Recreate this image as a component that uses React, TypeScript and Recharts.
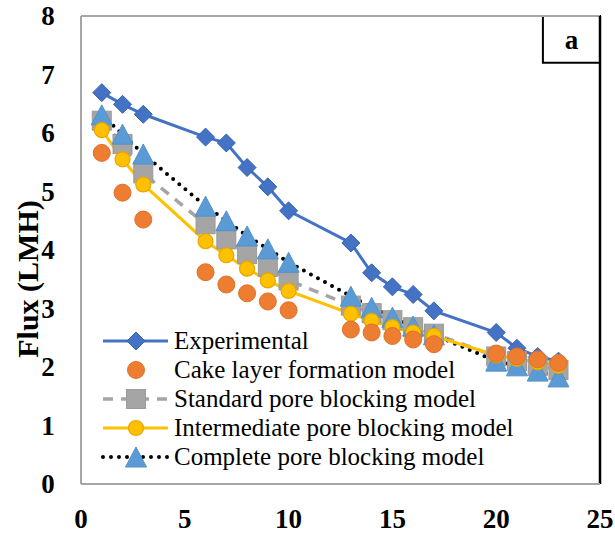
import { LineChart, Line, XAxis, YAxis, ReferenceLine, ReferenceArea } from 'recharts'

// Flux decline over time: measured values vs. four fouling models
const times = [1, 2, 3, 6, 7, 8, 9, 10, 13, 14, 15, 16, 17, 20, 21, 22, 23]
const experimental = [6.69, 6.49, 6.32, 5.93, 5.83, 5.41, 5.08, 4.67, 4.12, 3.61, 3.37, 3.24, 2.96, 2.59, 2.32, 2.18, 2.1]
const cakeLayer = [5.66, 4.98, 4.52, 3.62, 3.41, 3.26, 3.12, 2.97, 2.64, 2.59, 2.53, 2.47, 2.39, 2.23, 2.18, 2.13, 2.07]
const standardBlocking = [6.21, 5.81, 5.31, 4.44, 4.18, 3.93, 3.71, 3.48, 3.05, 2.92, 2.8, 2.68, 2.57, 2.18, 2.1, 2.02, 1.95]
const intermediateBlocking = [6.05, 5.55, 5.12, 4.15, 3.91, 3.68, 3.48, 3.3, 2.91, 2.79, 2.68, 2.59, 2.53, 2.2, 2.14, 2.08, 2.02]
const completeBlocking = [6.31, 5.98, 5.64, 4.75, 4.5, 4.24, 4.02, 3.79, 3.21, 3.02, 2.85, 2.7, 2.55, 2.1, 2.02, 1.93, 1.83]

const xTicks = [0, 5, 10, 15, 20, 25]
const yTicks = [0, 1, 2, 3, 4, 5, 6, 7, 8]

const rows = times.map((t, i) => ({
  t,
  experimental: experimental[i],
  cake: cakeLayer[i],
  standard: standardBlocking[i],
  intermediate: intermediateBlocking[i],
  complete: completeBlocking[i],
}))

const SERIF = "'Liberation Serif', 'Times New Roman', serif"
const BLUE = '#4472C4'
const ORANGE = '#ED7D31'
const GRAY = '#A5A5A5'
const YELLOW = '#FFC000'
const SKY = '#5B9BD5'
const FRAME = '#A6A6A6'

type DotProps = { cx?: number; cy?: number; index?: number }

const diamond = (cx: number, cy: number) => (
  <polygon
    points={`${cx},${cy - 9} ${cx + 9},${cy} ${cx},${cy + 9} ${cx - 9},${cy}`}
    fill={BLUE}
    stroke="#3A63AE"
    strokeWidth={1}
  />
)
const square = (cx: number, cy: number) => (
  <rect x={cx - 9.5} y={cy - 9.5} width={19} height={19} fill={GRAY} stroke="#9A9A9A" strokeWidth={1} />
)
const triangle = (cx: number, cy: number) => (
  <polygon points={`${cx},${cy - 10} ${cx + 10.5},${cy + 10} ${cx - 10.5},${cy + 10}`} fill={SKY} stroke="#5590C8" strokeWidth={1} />
)
const orangeDot = (cx: number, cy: number) => <circle cx={cx} cy={cy} r={8.5} fill={ORANGE} stroke="#E0702A" strokeWidth={1} />
const yellowDot = (cx: number, cy: number) => <circle cx={cx} cy={cy} r={7.5} fill={YELLOW} stroke="#E3A600" strokeWidth={1.2} />

const marker = (draw: (cx: number, cy: number) => JSX.Element, name: string) => (p: DotProps) => (
  <g key={`${name}-${p.index}`}>{p.cx != null && p.cy != null ? draw(p.cx, p.cy) : null}</g>
)

const XTick = ({ x, y, payload }: any) => (
  <text x={x} y={y + 33} textAnchor="middle" dominantBaseline="central" fontFamily={SERIF} fontWeight="bold" fontSize={27} fill="#000">
    {payload.value}
  </text>
)
const YTick = ({ x, y, payload }: any) => (
  <text x={x - 31} y={y} textAnchor="middle" dominantBaseline="central" fontFamily={SERIF} fontWeight="bold" fontSize={27} fill="#000">
    {payload.value}
  </text>
)

const legendItems = [
  { label: 'Experimental', line: { color: BLUE, dash: undefined as string | undefined, width: 3 }, draw: diamond },
  { label: 'Cake layer formation model', line: null, draw: orangeDot },
  { label: 'Standard pore blocking model', line: { color: GRAY, dash: '10 8', width: 3.5 }, draw: square },
  { label: 'Intermediate pore blocking model', line: { color: YELLOW, dash: undefined, width: 3 }, draw: yellowDot },
  { label: 'Complete pore blocking model', line: { color: '#000', dash: '0 8', width: 4 }, draw: triangle },
]

function LegendBox() {
  return (
    <div style={{ position: 'absolute', left: 100, top: 327, fontFamily: SERIF, fontSize: 25, color: '#000' }}>
      {legendItems.map((it) => (
        <div key={it.label} style={{ display: 'flex', alignItems: 'center', height: 28.8 }}>
          <svg width={72} height={26} style={{ overflow: 'visible' }}>
            {it.line && (
              <line
                x1={3}
                x2={68}
                y1={13}
                y2={13}
                stroke={it.line.color}
                strokeWidth={it.line.width}
                strokeDasharray={it.line.dash}
                strokeLinecap={it.line.dash === '0 8' ? 'round' : 'butt'}
              />
            )}
            {it.draw(36, 13)}
          </svg>
          <span style={{ marginLeft: 2, whiteSpace: 'nowrap', lineHeight: '28px' }}>{it.label}</span>
        </div>
      ))}
    </div>
  )
}

export default function App() {
  return (
    <div style={{ position: 'absolute', left: 0, top: 0, width: 615, height: 537, background: '#fff' }}>
      <LineChart width={615} height={537} data={rows} margin={{ top: 16, right: 15, bottom: 0, left: 0 }}>
        <XAxis
          dataKey="t"
          type="number"
          domain={[0, 25]}
          ticks={xTicks}
          height={53}
          tickLine={false}
          tickSize={0}
          axisLine={{ stroke: FRAME, strokeWidth: 2 }}
          tick={<XTick />}
        />
        <YAxis
          type="number"
          domain={[0, 8]}
          ticks={yTicks}
          width={81}
          tickLine={false}
          tickSize={0}
          axisLine={{ stroke: FRAME, strokeWidth: 2 }}
          tick={<YTick />}
          label={{
            content: () => (
              <text
                x={27}
                y={279}
                transform="rotate(-90, 27, 279)"
                textAnchor="middle"
                dominantBaseline="central"
                fontFamily={SERIF}
                fontWeight="bold"
                fontSize={30}
                fill="#000"
              >
                Flux (LMH)
              </text>
            ),
          }}
        />
        <ReferenceLine y={8} stroke={FRAME} strokeWidth={2} />
        <ReferenceLine x={25} stroke="#000" strokeWidth={2.5} />

        <Line dataKey="experimental" stroke={BLUE} strokeWidth={3} dot={marker(diamond, 'exp')} isAnimationActive={false} />
        <Line dataKey="standard" stroke={GRAY} strokeWidth={3.5} strokeDasharray="10 8" dot={marker(square, 'std')} isAnimationActive={false} />
        <Line
          dataKey="complete"
          stroke="#000"
          strokeWidth={4}
          strokeDasharray="0 8"
          strokeLinecap="round"
          dot={marker(triangle, 'cpl')}
          isAnimationActive={false}
        />
        <Line dataKey="intermediate" stroke={YELLOW} strokeWidth={3} dot={marker(yellowDot, 'int')} isAnimationActive={false} />
        <Line dataKey="cake" stroke="none" strokeWidth={0} dot={marker(orangeDot, 'cake')} isAnimationActive={false} />

        <ReferenceArea
          x1={22.25}
          x2={25}
          y1={7.2}
          y2={8}
          fill="#fff"
          fillOpacity={1}
          stroke="#000"
          strokeWidth={2}
          label={{ value: 'a', position: 'center', fontFamily: SERIF, fontWeight: 'bold', fontSize: 27, fill: '#000' }}
        />
      </LineChart>
      <LegendBox />
    </div>
  )
}
